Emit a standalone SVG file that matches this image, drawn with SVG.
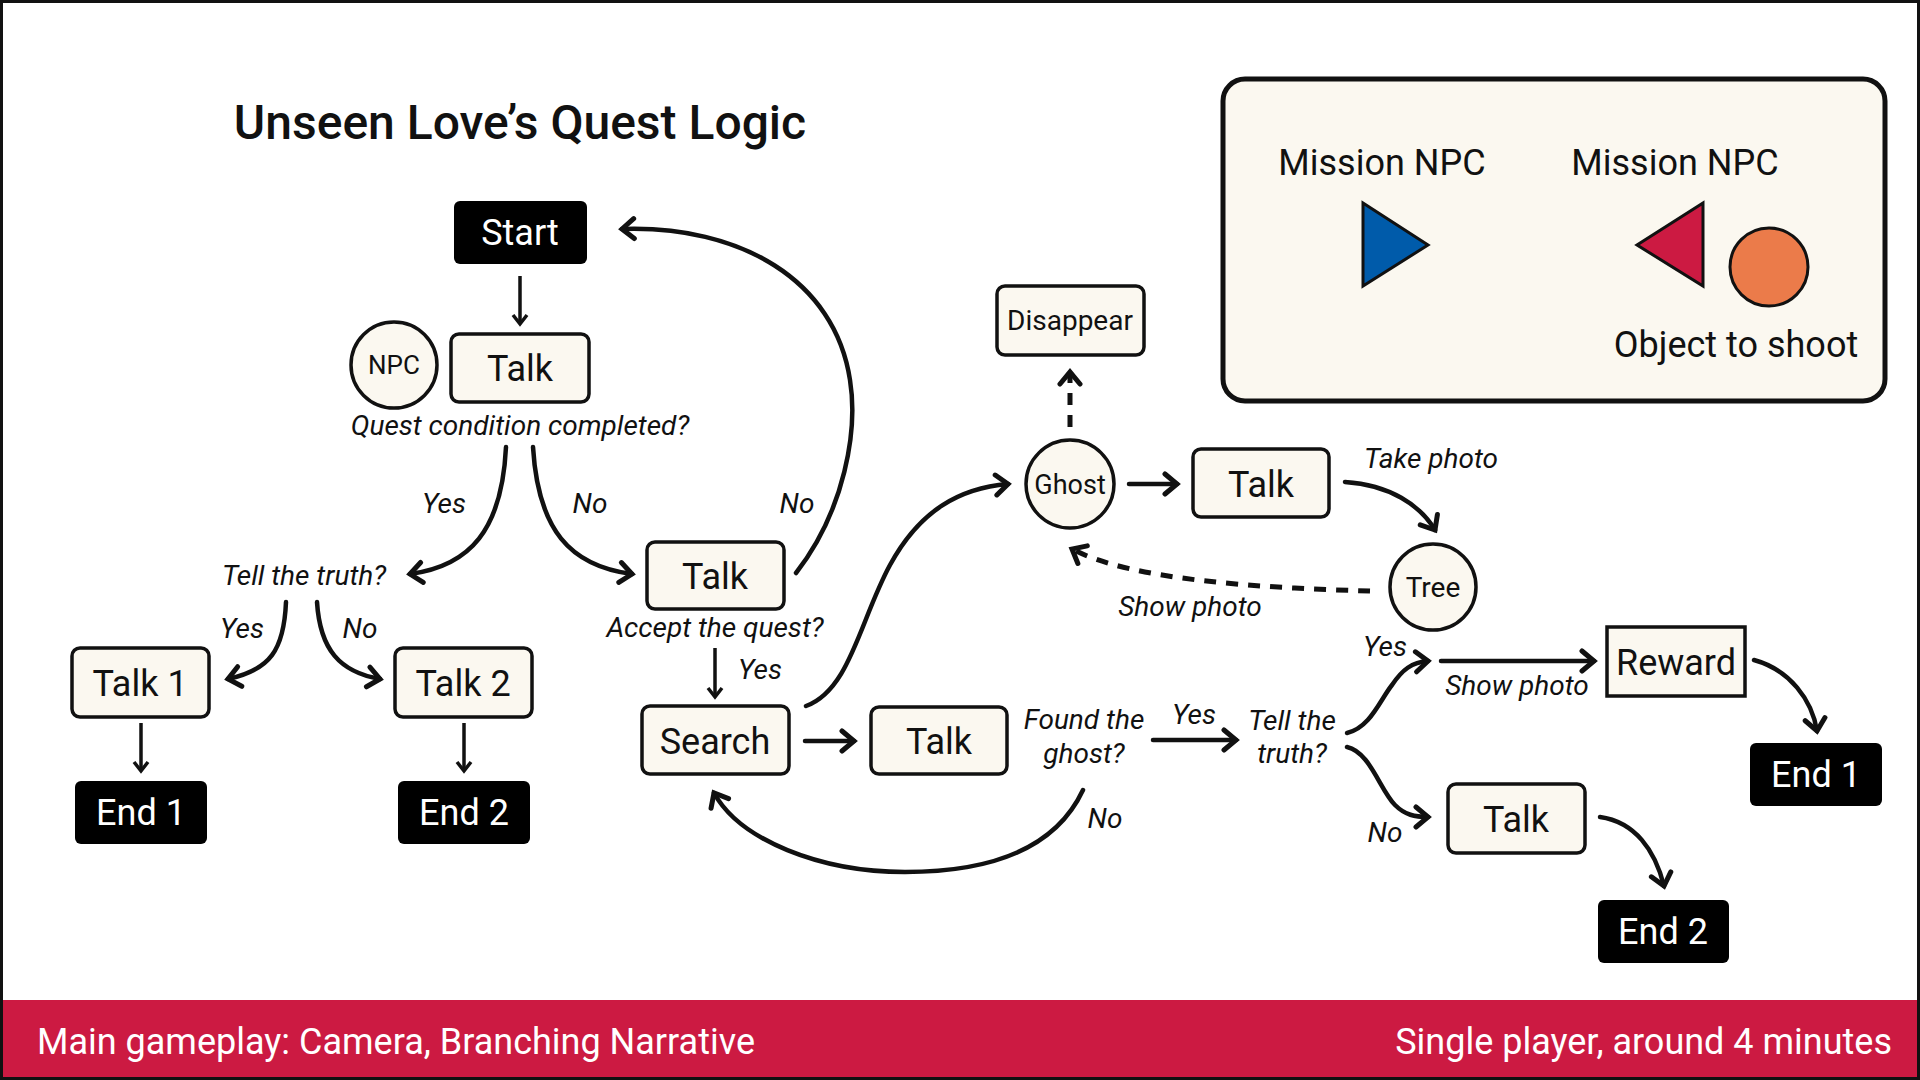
<svg xmlns="http://www.w3.org/2000/svg" width="1920" height="1080" viewBox="0 0 1920 1080">
<style>
text{font-family:Roboto,"Liberation Sans",sans-serif;fill:#111}
.box{fill:#FBF8F0;stroke:#111;stroke-width:3.5}
.dark{fill:#000;stroke:none}
.t34{font-size:36px;text-anchor:middle}
.t26{font-size:27px;text-anchor:middle}
.it{font-size:28px;font-style:italic;text-anchor:middle}
.c{fill:none;stroke:#111;stroke-width:4.5;stroke-linecap:round}
.thin{fill:none;stroke:#111;stroke-width:3.5}
.dash{fill:none;stroke:#111;stroke-width:5;stroke-dasharray:12 10}
</style>
<defs>
<marker id="ah" markerUnits="userSpaceOnUse" markerWidth="22" markerHeight="26" viewBox="0 0 22 26" refX="16" refY="13" orient="auto">
<path d="M4,3 L16,13 L4,23" fill="none" stroke="#111" stroke-width="5" stroke-linejoin="miter" stroke-linecap="round"/>
</marker>
<marker id="ahs" markerUnits="userSpaceOnUse" markerWidth="16" markerHeight="20" viewBox="0 0 16 20" refX="12" refY="10" orient="auto">
<path d="M3,3 L12,10 L3,17" fill="none" stroke="#111" stroke-width="3.5" stroke-linejoin="miter"/>
</marker>
</defs>
<rect x="0" y="0" width="1920" height="1080" fill="#fff"/>
<rect x="0" y="1000" width="1920" height="80" fill="#CC1A42"/>
<text x="37" y="1054" style="font-size:36px;fill:#fff">Main gameplay: Camera, Branching Narrative</text>
<text x="1892" y="1054" style="font-size:36px;fill:#fff;text-anchor:end">Single player, around 4 minutes</text>
<rect x="0" y="0" width="1920" height="1080" fill="none" stroke="#111" stroke-width="6"/>

<text x="520" y="139" style="font-size:48px;font-weight:500;text-anchor:middle">Unseen Love’s Quest Logic</text>

<g id="legend">
<rect x="1223" y="79" width="662" height="322" rx="22" fill="#FBF8F0" stroke="#111" stroke-width="5"/>
<text x="1382" y="175" class="t34">Mission NPC</text>
<text x="1675" y="175" class="t34">Mission NPC</text>
<polygon points="1363,203 1363,286 1428,245" fill="#005BAA" stroke="#111" stroke-width="3"/>
<polygon points="1703,203 1703,286 1637,245" fill="#CC1A42" stroke="#111" stroke-width="3"/>
<circle cx="1769" cy="267" r="39" fill="#EB7B4A" stroke="#111" stroke-width="3"/>
<text x="1736" y="357" class="t34">Object to shoot</text>
</g>

<g id="connectors">
<line x1="520" y1="276" x2="520" y2="324" class="thin" marker-end="url(#ahs)"/>
<path d="M506,447 C502,530 470,566 410,574" class="c" marker-end="url(#ah)"/>
<path d="M533,447 C538,530 570,566 632,574" class="c" marker-end="url(#ah)"/>
<path d="M796,573 C845,510 858,430 850,380 C835,280 740,225 622,229" class="c" marker-end="url(#ah)"/>
<path d="M286,602 C284,650 270,670 228,679" class="c" marker-end="url(#ah)"/>
<path d="M317,602 C320,650 340,672 380,679" class="c" marker-end="url(#ah)"/>
<line x1="141" y1="723" x2="141" y2="771" class="thin" marker-end="url(#ahs)"/>
<line x1="464" y1="723" x2="464" y2="771" class="thin" marker-end="url(#ahs)"/>
<line x1="715" y1="648" x2="715" y2="697" class="thin" marker-end="url(#ahs)"/>
<line x1="805" y1="741" x2="854" y2="741" class="c" stroke-width="5" marker-end="url(#ah)"/>
<path d="M806,706 C850,690 860,620 890,565 C920,510 960,488 1008,484" class="c" marker-end="url(#ah)"/>
<line x1="1129" y1="484" x2="1177" y2="484" class="c" stroke-width="5" marker-end="url(#ah)"/>
<line x1="1070" y1="427" x2="1070" y2="372" class="dash" marker-end="url(#ah)"/>
<path d="M1345,482 C1390,485 1420,505 1435,530" class="c" marker-end="url(#ah)"/>
<path d="M1370,591 C1260,588 1130,580 1072,549" class="dash" marker-end="url(#ah)"/>
<path d="M1083,790 C1055,850 990,872 905,872 C820,872 740,840 714,793" class="c" marker-end="url(#ah)"/>
<line x1="1153" y1="740" x2="1236" y2="740" class="c" stroke-width="5" marker-end="url(#ah)"/>
<path d="M1347,733 C1370,728 1380,700 1392,685 C1402,670 1412,662 1428,661" class="c" marker-end="url(#ah)"/>
<line x1="1441" y1="661" x2="1594" y2="661" class="c" stroke-width="5" marker-end="url(#ah)"/>
<path d="M1754,660 C1790,670 1812,700 1817,731" class="c" marker-end="url(#ah)"/>
<path d="M1347,747 C1370,752 1380,790 1395,805 C1405,815 1415,817 1428,817" class="c" marker-end="url(#ah)"/>
<path d="M1600,817 C1635,822 1655,850 1664,886" class="c" marker-end="url(#ah)"/>
</g>

<g id="labels">
<text x="520" y="435" class="it">Quest condition completed?</text>
<text x="444" y="513" class="it">Yes</text>
<text x="590" y="513" class="it">No</text>
<text x="797" y="513" class="it">No</text>
<text x="304" y="585" class="it">Tell the truth?</text>
<text x="242" y="638" class="it">Yes</text>
<text x="360" y="638" class="it">No</text>
<text x="715" y="637" class="it">Accept the quest?</text>
<text x="760" y="679" class="it">Yes</text>
<text x="1431" y="468" class="it">Take photo</text>
<text x="1190" y="616" class="it">Show photo</text>
<text x="1084" y="729" class="it">Found the</text>
<text x="1084" y="763" class="it">ghost?</text>
<text x="1194" y="724" class="it">Yes</text>
<text x="1292" y="730" class="it">Tell the</text>
<text x="1292" y="763" class="it">truth?</text>
<text x="1385" y="656" class="it">Yes</text>
<text x="1517" y="695" class="it">Show photo</text>
<text x="1385" y="842" class="it">No</text>
<text x="1105" y="828" class="it">No</text>
</g>

<g id="start"><rect x="454" y="201" width="133" height="63" rx="6" class="dark"/><text x="520" y="245" class="t34" style="fill:#fff">Start</text></g>
<g id="npc"><circle cx="394" cy="365" r="43" class="box"/><text x="394" y="374" class="t26" style="font-size:26px">NPC</text></g>
<g id="talk-quest"><rect x="451" y="334" width="138" height="68" rx="8" class="box"/><text x="520" y="381" class="t34">Talk</text></g>
<g id="talk1"><rect x="72" y="648" width="137" height="69" rx="8" class="box"/><text x="140" y="696" class="t34">Talk 1</text></g>
<g id="talk2"><rect x="395" y="648" width="137" height="69" rx="8" class="box"/><text x="463" y="696" class="t34">Talk 2</text></g>
<g id="end1-left"><rect x="75" y="781" width="132" height="63" rx="6" class="dark"/><text x="141" y="825" class="t34" style="fill:#fff">End 1</text></g>
<g id="end2-left"><rect x="398" y="781" width="132" height="63" rx="6" class="dark"/><text x="464" y="825" class="t34" style="fill:#fff">End 2</text></g>
<g id="talk-accept"><rect x="647" y="542" width="137" height="67" rx="8" class="box"/><text x="715" y="589" class="t34">Talk</text></g>
<g id="search"><rect x="642" y="706" width="147" height="68" rx="8" class="box"/><text x="715" y="754" class="t34">Search</text></g>
<g id="talk-search"><rect x="871" y="707" width="136" height="67" rx="8" class="box"/><text x="939" y="754" class="t34">Talk</text></g>
<g id="ghost"><circle cx="1070" cy="484" r="44" class="box"/><text x="1070" y="494" class="t26">Ghost</text></g>
<g id="disappear"><rect x="997" y="286" width="147" height="69" rx="8" class="box"/><text x="1070" y="330" class="t26" style="font-size:28px">Disappear</text></g>
<g id="talk-ghost"><rect x="1193" y="449" width="136" height="68" rx="8" class="box"/><text x="1261" y="497" class="t34">Talk</text></g>
<g id="tree"><circle cx="1433" cy="587" r="43" class="box"/><text x="1433" y="597" class="t26" style="font-size:28px">Tree</text></g>
<g id="reward"><rect x="1607" y="627" width="138" height="69" class="box"/><text x="1676" y="675" class="t34">Reward</text></g>
<g id="end1-right"><rect x="1750" y="743" width="132" height="63" rx="6" class="dark"/><text x="1816" y="787" class="t34" style="fill:#fff">End 1</text></g>
<g id="talk-no"><rect x="1448" y="784" width="137" height="69" rx="8" class="box"/><text x="1516" y="832" class="t34">Talk</text></g>
<g id="end2-right"><rect x="1598" y="900" width="131" height="63" rx="6" class="dark"/><text x="1663" y="944" class="t34" style="fill:#fff">End 2</text></g>
</svg>
